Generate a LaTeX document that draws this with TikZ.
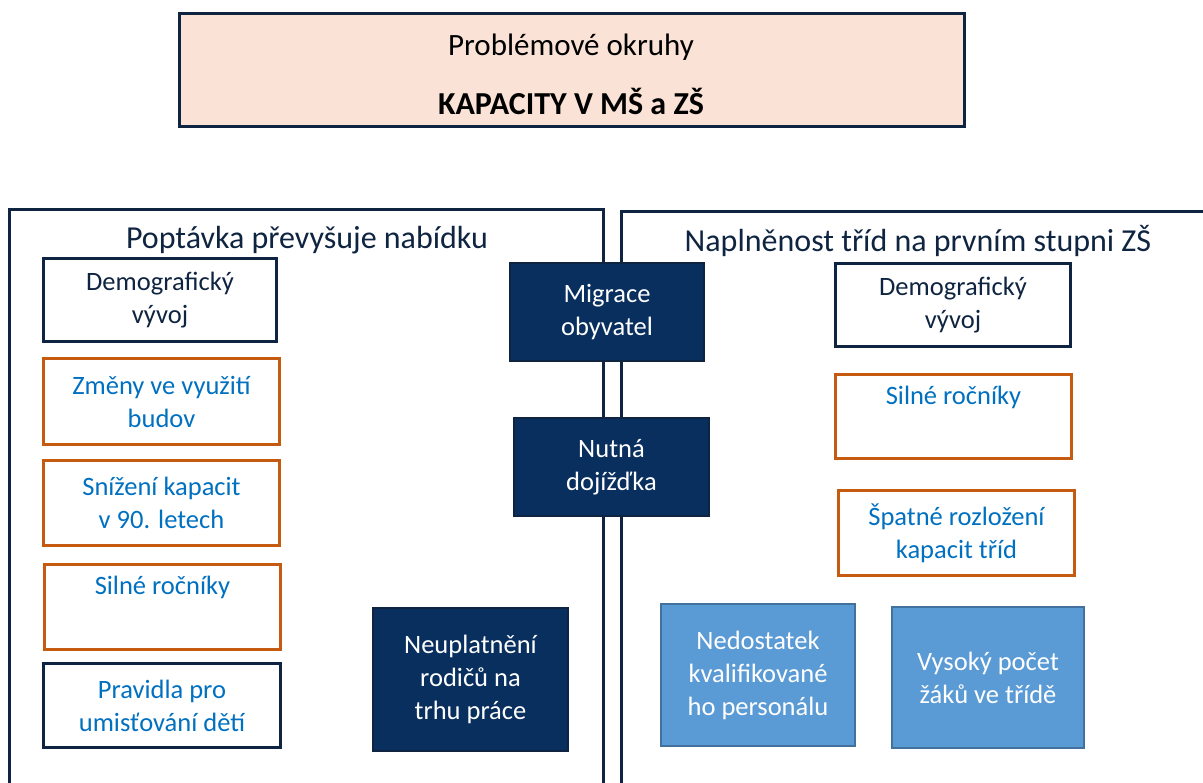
\documentclass[tikz,border=0pt]{standalone}
\usepackage{fontspec}
\setmainfont{Carlito}
\usepackage{xcolor}
\usepackage{tikz}

\definecolor{navy}{RGB}{14,36,64}
\definecolor{navyfill}{RGB}{9,47,94}
\definecolor{peach}{RGB}{250,227,214}
\definecolor{rust}{RGB}{197,90,17}
\definecolor{txtblue}{RGB}{0,112,192}
\definecolor{skyfill}{RGB}{91,155,213}
\definecolor{skyline}{RGB}{65,113,156}

\begin{document}
\begin{tikzpicture}[x=1pt, y=-1pt,
  boxfont/.style={font=\fontsize{26.5}{33}\selectfont},
  plainbox/.style={draw=navy, line width=3pt, fill=white, text=navy, align=center, inner sep=0pt, boxfont},
  causebox/.style={draw=rust, line width=2.5pt, fill=white, text=txtblue, align=center, inner sep=0pt, boxfont},
  rulebox/.style={draw=navy, line width=3pt, fill=white, text=txtblue, align=center, inner sep=0pt, boxfont},
  darkbox/.style={draw=navy, line width=2pt, fill=navyfill, text=white, align=center, inner sep=0pt, boxfont},
  lightbox/.style={draw=skyline, line width=2pt, fill=skyfill, text=white, align=center, inner sep=0pt, boxfont},
  frametitle/.style={text=navy, font=\fontsize{32}{38}\selectfont}]
  \useasboundingbox (0,0) rectangle (1203,783);
  % Heading
  \node[draw=navy, line width=3pt, fill=peach, minimum width=785pt, minimum height=113pt,
        inner sep=0pt] (head) at (571.5,70.5) {};
  \node[font=\fontsize{31}{36}\selectfont] (headtop) at (571,47) {Problémové okruhy};
  \node[font=\fontsize{32}{36}\selectfont\bfseries] (headbot) at (571,101) {KAPACITY V MŠ a ZŠ};
  % Frames
  \draw[navy, line width=3pt] (9.5,783) |- (603.5,209.5) -- (603.5,783);
  \draw[navy, line width=3pt] (621.5,783) |- (1203,211.5);
  \node[frametitle] (lefttitle) at (307,240) {Poptávka převyšuje nabídku};
  \node[frametitle] (righttitle) at (918,241) {Naplněnost tříd na prvním stupni ZŠ};
  % Left column
  \node[plainbox, minimum width=233pt, minimum height=83pt] (demoL) at (160,300) {Demografický\\vývoj};
  \node[causebox, minimum width=236pt, minimum height=86pt] (budovy) at (161.5,401.5) {Změny ve využití\\budov};
  \node[causebox, minimum width=236pt, minimum height=85pt] (kapacity) at (161.5,503) {Snížení kapacit\\v 90. letech};
  \node[causebox, minimum width=236pt, minimum height=85pt] (silneL) at (162.5,607) {Silné ročníky\\ \strut};
  \node[rulebox, minimum width=237pt, minimum height=84pt] (pravidla) at (162,705.5) {Pravidla pro\\umisťování dětí};
  % Middle
  \node[darkbox, minimum width=194pt, minimum height=98pt] (migrace) at (607,312) {Migrace\\obyvatel};
  \node[darkbox, minimum width=195pt, minimum height=98pt] (dojizdka) at (611.5,467) {Nutná\\dojížďka};
  \node[darkbox, minimum width=195pt, minimum height=143pt] (rodice) at (470.5,679.5) {Neuplatnění\\rodičů na\\trhu práce};
  % Right column
  \node[plainbox, minimum width=235pt, minimum height=83pt] (demoR) at (953,305) {Demografický\\vývoj};
  \node[causebox, minimum width=236pt, minimum height=84pt] (silneR) at (953.5,416.5) {Silné ročníky\\ \strut};
  \node[causebox, minimum width=236pt, minimum height=85pt] (rozlozeni) at (956.5,533) {Špatné rozložení\\kapacit tříd};
  \node[lightbox, minimum width=194pt, minimum height=142pt] (personal) at (758,675) {Nedostatek\\kvalifikované\\ho personálu};
  \node[lightbox, minimum width=192pt, minimum height=141pt] (pocet) at (988,677.5) {Vysoký počet\\žáků ve třídě};
\end{tikzpicture}
\end{document}
